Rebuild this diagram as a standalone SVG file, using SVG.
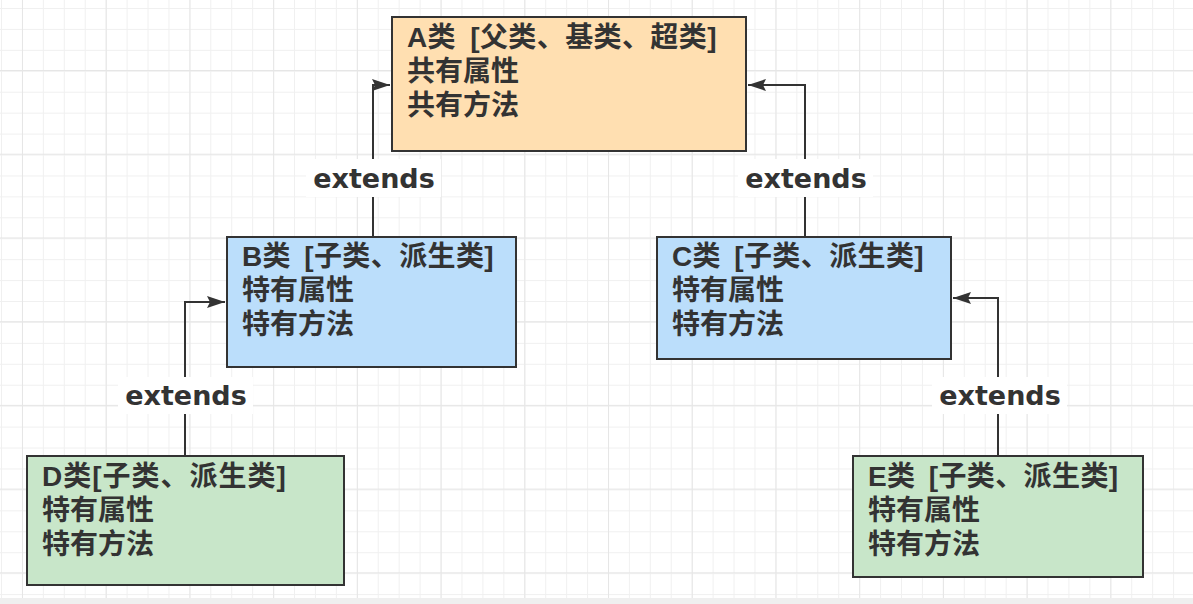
<svg xmlns="http://www.w3.org/2000/svg" width="1193" height="604" viewBox="0 0 1193 604">
  <defs>
    <pattern id="gridMinor" patternUnits="userSpaceOnUse" x="1" y="8" width="20.93" height="20.93">
      <rect x="0" y="0" width="1" height="20.93" fill="#f0f0f0"/>
      <rect x="0" y="0" width="20.93" height="1" fill="#f0f0f0"/>
    </pattern>
    <pattern id="gridMajor" patternUnits="userSpaceOnUse" x="22" y="70" width="83.72" height="83.72">
      <rect x="0" y="0" width="1" height="83.72" fill="#e6e6e6"/>
      <rect x="0" y="0" width="83.72" height="1" fill="#e6e6e6"/>
    </pattern>
    <marker id="arrow" markerUnits="userSpaceOnUse" markerWidth="20" markerHeight="14" refX="18" refY="6" orient="auto" viewBox="0 0 20 14" overflow="visible">
      <path d="M0,0 L18,6 L0,12 L3,6 Z" fill="#333333"/>
    </marker>
    <style>
      .box { stroke: #333333; stroke-width: 2; }
      .a { fill: #ffdfb1; }
      .bc { fill: #bbdefb; }
      .de { fill: #c8e6c9; }
      .t { font-family: "Liberation Sans", "Noto Sans CJK SC", sans-serif; font-weight: bold; font-size: 28px; fill: #333333; }
      .title { letter-spacing: 0.4px; }
      .titled { letter-spacing: 1px; }
      .lbl { font-family: "DejaVu Sans", sans-serif; font-weight: bold; font-size: 27px; fill: #333333; text-anchor: middle; }
      .conn { fill: none; stroke: #333333; stroke-width: 2; }
      .lblbg { fill: #ffffff; }
    </style>
  </defs>

  <rect x="0" y="0" width="1193" height="604" fill="#ffffff"/>
  <rect x="0" y="0" width="1193" height="598" fill="url(#gridMinor)"/>
  <rect x="0" y="0" width="1193" height="598" fill="url(#gridMajor)"/>
  <rect x="0" y="598" width="1193" height="6" fill="#efefef"/>

  <g id="connectors">
    <path class="conn" d="M373,237 V85 H390" marker-end="url(#arrow)"/>
    <path class="conn" d="M805,237 V85 H748" marker-end="url(#arrow)"/>
    <path class="conn" d="M185,456 V302 H225" marker-end="url(#arrow)"/>
    <path class="conn" d="M998,456 V298 H953" marker-end="url(#arrow)"/>
    <g id="label-BA">
      <rect class="lblbg" x="306" y="159" width="135" height="38"/>
      <text class="lbl" x="374" y="188">extends</text>
    </g>
    <g id="label-CA">
      <rect class="lblbg" x="738" y="159" width="135" height="38"/>
      <text class="lbl" x="806" y="188">extends</text>
    </g>
    <g id="label-DB">
      <rect class="lblbg" x="118" y="377" width="135" height="37"/>
      <text class="lbl" x="186" y="405">extends</text>
    </g>
    <g id="label-EC">
      <rect class="lblbg" x="932" y="377" width="135" height="37"/>
      <text class="lbl" x="1000" y="405">extends</text>
    </g>
  </g>

  <g id="nodeA">
    <rect class="box a" x="392" y="17" width="354" height="134"/>
    <text class="t title" x="407" y="47">A类 <tspan dx="6">[父类、基类、超类]</tspan></text>
    <text class="t" x="407" y="81">共有属性</text>
    <text class="t" x="407" y="115">共有方法</text>
  </g>
  <g id="nodeB">
    <rect class="box bc" x="227" y="237" width="289" height="130"/>
    <text class="t title" x="242" y="266">B类 <tspan dx="5">[子类、派生类]</tspan></text>
    <text class="t" x="242" y="300">特有属性</text>
    <text class="t" x="242" y="334">特有方法</text>
  </g>
  <g id="nodeC">
    <rect class="box bc" x="657" y="237" width="294" height="122"/>
    <text class="t title" x="672" y="266">C类 <tspan dx="5">[子类、派生类]</tspan></text>
    <text class="t" x="672" y="300">特有属性</text>
    <text class="t" x="672" y="334">特有方法</text>
  </g>
  <g id="nodeD">
    <rect class="box de" x="27" y="456" width="317" height="129"/>
    <text class="t titled" x="42" y="486">D类[子类、派生类]</text>
    <text class="t" x="42" y="520">特有属性</text>
    <text class="t" x="42" y="554">特有方法</text>
  </g>
  <g id="nodeE">
    <rect class="box de" x="853" y="456" width="290" height="121"/>
    <text class="t title" x="868" y="486">E类 <tspan dx="5">[子类、派生类]</tspan></text>
    <text class="t" x="868" y="520">特有属性</text>
    <text class="t" x="868" y="554">特有方法</text>
  </g>
</svg>
